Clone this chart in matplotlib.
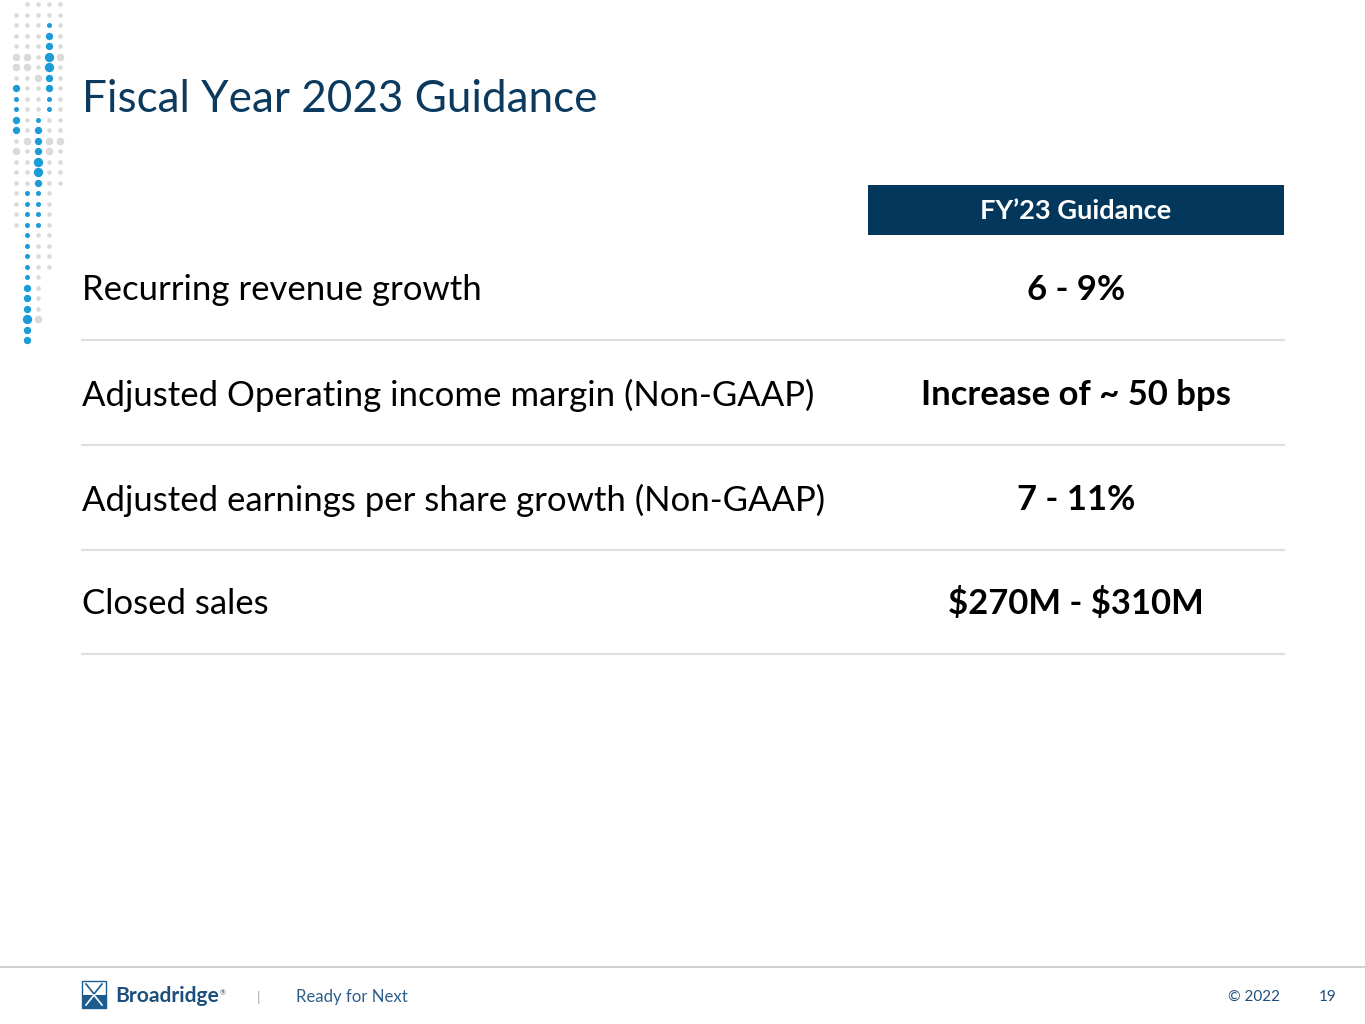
import matplotlib.pyplot as plt
from matplotlib.patches import Rectangle

plt.rcParams['font.family'] = ['Lato', 'DejaVu Sans']
plt.rcParams['text.parse_math'] = False

# Slide content
title = 'Fiscal Year 2023 Guidance'
column_header = 'FY’23 Guidance'
metrics = [
    'Recurring revenue growth',
    'Adjusted Operating income margin (Non-GAAP)',
    'Adjusted earnings per share growth (Non-GAAP)',
    'Closed sales',
]
guidance = ['6 - 9%', 'Increase of ~ 50 bps', '7 - 11%', '$270M - $310M']
footer_brand = 'Broadridge'
footer_tag = 'Ready for Next'
footer_copy = '© 2022'
page_no = '19'

# Decorative dot columns (g/G gray, b/B/X blue, . empty), one char per row
dot_columns = [
    '.ggggGGgBbbBBgGggggggg...........',
    'gggggGGggggggGggggbbbbbbbbbBBBXBB',
    'gggggggGgggbBBBXXBbbbbggggggggG..',
    'ggbBBXXBBbbggGGggggggggggg.......',
    'gggggGgggggggGgggg...............',
]

navy = '#0b3a5e'
blue = '#1b9bd7'
light = '#dadada'

fig = plt.figure(figsize=(13.65, 10.24), dpi=100)
ax = fig.add_axes([0, 0, 1, 1])
ax.set_xlim(0, 1365)
ax.set_ylim(1024, 0)
ax.axis('off')
renderer = fig.canvas.get_renderer()


def fitted_size(text, width, weight='normal', base=20):
    t = ax.text(0, 0, text, fontsize=base, fontweight=weight)
    w = t.get_window_extent(renderer).width
    t.remove()
    return base * width / w


# dots
dot_style = {'g': (light, 11), 'G': (light, 30), 'b': (blue, 13),
             'B': (blue, 28), 'X': (blue, 45)}
for ci, col in enumerate(dot_columns):
    for ri, ch in enumerate(col[:33]):
        if ch in dot_style:
            c, s = dot_style[ch]
            ax.scatter(16 + 11 * ci, 4 + 10.5 * ri, s=s, color=c, lw=0, zorder=2)

# title
ax.text(82, 99, title, fontsize=fitted_size(title, 515), color=navy,
        va='center', ha='left')

# header box
ax.add_patch(Rectangle((868, 185), 416, 50, color='#03375c', lw=0))
ax.text(1076, 211, column_header, fontsize=fitted_size(column_header, 192, 'bold'),
        fontweight='bold', color='white', ha='center', va='center')

# rows
label_fs = fitted_size(metrics[2], 744)
value_fs = fitted_size(guidance[1], 310, 'bold')
row_y = [290, 395, 500, 604]
for y, m, g in zip(row_y, metrics, guidance):
    ax.text(82, y, m, fontsize=label_fs, color='black', va='center', ha='left')
    ax.text(1076, y, g, fontsize=value_fs, fontweight='bold', color='black',
            va='center', ha='center')
    ax.plot([82, 1284], [y + 50, y + 50], color='#dedede', lw=1.5)

# footer
ax.plot([0, 1365], [967, 967], color='#c8c8c8', lw=1.2)
ax.add_patch(Rectangle((82, 995), 24, 13, color='#1d5c8f', lw=0))
ax.add_patch(Rectangle((82, 981), 24, 27, fill=False, ec='#1d5c8f', lw=1))
ax.plot([86, 94, 102], [984, 994, 984], color='#1d5c8f', lw=1.2)
ax.plot([86, 94, 102], [1005, 995, 1005], color='white', lw=1.2)
ax.text(115, 996, footer_brand, fontsize=fitted_size(footer_brand, 104, 'bold'),
        fontweight='bold', color='#1d4f7c', va='center', ha='left')
ax.text(220, 993, '®', fontsize=5, color='#1d4f7c', va='center')
ax.text(259, 997, '|', fontsize=10, color='#aaaaaa', va='center', ha='center')
ax.text(296, 997, footer_tag, fontsize=fitted_size(footer_tag, 112),
        color='#2f5f8a', va='center', ha='left')
ax.text(1280, 997, footer_copy, fontsize=11, color='#1f4e79', va='center', ha='right')
ax.text(1337, 997, page_no, fontsize=11, color='#1f4e79', va='center', ha='right')

fig.savefig('out.png', dpi=100, facecolor='white')
